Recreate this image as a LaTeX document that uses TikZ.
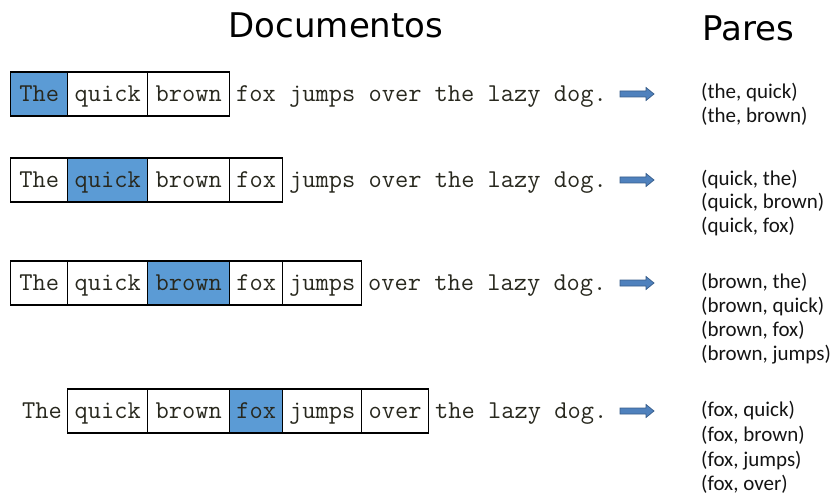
\documentclass[tikz,border=0pt]{standalone}
\usepackage{fontspec}
\setmainfont{Carlito}
\newfontfamily\titlefam{DejaVu Sans}

\definecolor{wordink}{RGB}{40,40,30}
\definecolor{hiblue}{RGB}{91,155,213}
\definecolor{arrowfill}{RGB}{79,129,189}
\definecolor{arrowedge}{RGB}{56,93,138}
\definecolor{pairink}{RGB}{20,20,20}

\tikzset{
  monotext/.style={font=\ttfamily\fontsize{25.7}{26}\selectfont, text=wordink,
    text height=16pt, text depth=1pt},
  cellbox/.style={monotext, draw=black, line width=1.3pt, inner sep=0pt,
    minimum height=44pt, anchor=west},
  freeword/.style={monotext, inner sep=0pt, anchor=west},
  pairtext/.style={font=\fontsize{21}{21}\selectfont, text=pairink,
    inner sep=0pt, anchor=west, text height=7.5pt, text depth=2.5pt},
  titletext/.style={font=\titlefam\fontsize{34}{34}\selectfont, text=black,
    inner sep=0pt},
  blockarrow/.style={fill=arrowfill, draw=arrowedge, line width=0.7pt,
    line join=miter},
}

% one boxed word: [extra style] name, left x, right x, centre y, text
\newcommand\wordcell[6][]{%
  \node[cellbox, #1, minimum width={#4-#3}] (#2) at (#3,#5) {#6};}

% block arrow pointing right, centred vertically on #1
\newcommand\pairarrow[1]{%
  \draw[blockarrow] (620,#1-3) -- (646,#1-3) -- (646,#1-6.5) -- (654,#1)
    -- (646,#1+6.5) -- (646,#1+3) -- (620,#1+3) -- cycle;}

\begin{document}
\begin{tikzpicture}[x=1pt, y=-1pt]
\useasboundingbox (0,0) rectangle (835,497);

% column headings
\node[titletext] (doc) at (336,25) {Documentos};
\node[titletext] (pares) at (748,28) {Pares};

% ---- row 1: centre word "The"
\wordcell[fill=hiblue]{r1a}{10}{67}{94}{The}
\wordcell{r1b}{67}{147}{94}{quick}
\wordcell{r1c}{147}{229}{94}{brown}
\node[freeword] (r1rest) at (236,94) {fox jumps over the lazy dog.};
\pairarrow{94}
\node[pairtext] (p11) at (701,96) {(the, quick)};
\node[pairtext] (p12) at (701,120) {(the, brown)};

% ---- row 2: centre word "quick"
\wordcell{r2a}{10}{67}{180}{The}
\wordcell[fill=hiblue]{r2b}{67}{147}{180}{quick}
\wordcell{r2c}{147}{229}{180}{brown}
\wordcell{r2d}{229}{282}{180}{fox}
\node[freeword] (r2rest) at (289,180) {jumps over the lazy dog.};
\pairarrow{180}
\node[pairtext] (p21) at (701,183) {(quick, the)};
\node[pairtext] (p22) at (701,206) {(quick, brown)};
\node[pairtext] (p23) at (701,230) {(quick, fox)};

% ---- row 3: centre word "brown"
\wordcell{r3a}{10}{67}{283}{The}
\wordcell{r3b}{67}{147}{283}{quick}
\wordcell[fill=hiblue]{r3c}{147}{229}{283}{brown}
\wordcell{r3d}{229}{282}{283}{fox}
\wordcell{r3e}{282}{361}{283}{jumps}
\node[freeword] (r3rest) at (368,283) {over the lazy dog.};
\pairarrow{283}
\node[pairtext] (p31) at (701,286) {(brown, the)};
\node[pairtext] (p32) at (701,310) {(brown, quick)};
\node[pairtext] (p33) at (701,334) {(brown, fox)};
\node[pairtext] (p34) at (701,358) {(brown, jumps)};

% ---- row 4: centre word "fox"
\node[freeword] (r4first) at (22,411) {The};
\wordcell{r4b}{67}{147}{411}{quick}
\wordcell{r4c}{147}{229}{411}{brown}
\wordcell[fill=hiblue]{r4d}{229}{282}{411}{fox}
\wordcell{r4e}{282}{361}{411}{jumps}
\wordcell{r4f}{361}{428}{411}{over}
\node[freeword] (r4rest) at (435,411) {the lazy dog.};
\pairarrow{411}
\node[pairtext] (p41) at (701,414) {(fox, quick)};
\node[pairtext] (p42) at (701,439) {(fox, brown)};
\node[pairtext] (p43) at (701,464) {(fox, jumps)};
\node[pairtext] (p44) at (701,488) {(fox, over)};
\end{tikzpicture}
\end{document}
